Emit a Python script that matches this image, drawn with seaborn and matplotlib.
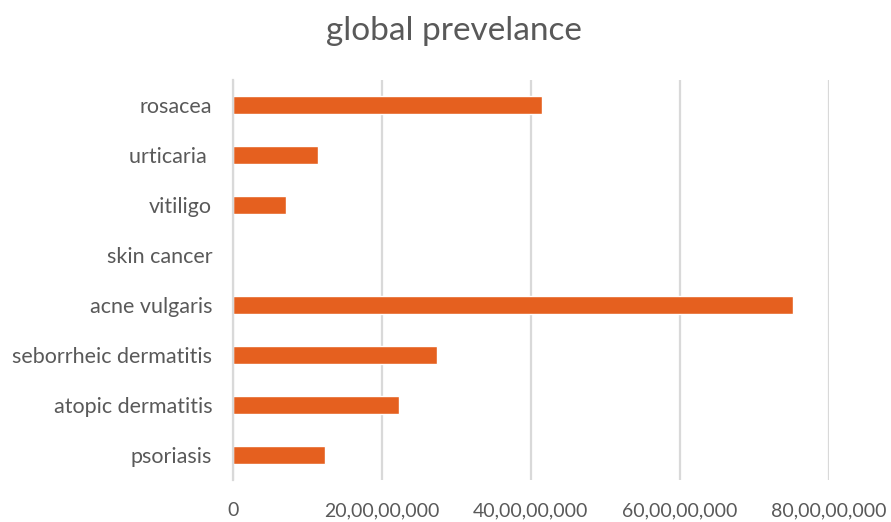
import pandas as pd
import matplotlib.pyplot as plt
import seaborn as sns
from matplotlib.ticker import FuncFormatter

# Datos
enfermedades = ['rosacea', 'urticaria ', 'vitiligo', 'skin cancer', 'acne vulgaris',
                'seborrheic dermatitis', 'atopic dermatitis', 'psoriasis']
prevalencia = [415000000, 114000000, 71000000, 0, 752000000,
               274000000, 223000000, 124000000]
ticks_x = [0, 200000000, 400000000, 600000000, 800000000]

df = pd.DataFrame({'enfermedad': enfermedades, 'prevalencia': prevalencia})


def formato_indio(x, pos):
    # 20,00,00,000 style grouping
    s = str(int(round(x)))
    if len(s) <= 3:
        return s
    ultimos = s[-3:]
    resto = s[:-3]
    grupos = []
    while len(resto) > 2:
        grupos.insert(0, resto[-2:])
        resto = resto[:-2]
    if resto:
        grupos.insert(0, resto)
    return ','.join(grupos) + ',' + ultimos


sns.set_style('white')
plt.rcParams['font.family'] = ['Lato', 'DejaVu Sans']
gris = '#595959'

fig = plt.figure(figsize=(8.91, 5.22), dpi=100)
ax = fig.add_axes([0.2615, 0.0805, 0.6685, 0.7662])

sns.barplot(data=df, x='prevalencia', y='enfermedad', orient='h',
            color='#E5601F', width=0.36, saturation=1, ax=ax)

ax.set_xlim(0, 800000000)
ax.set_xticks(ticks_x)
ax.xaxis.set_major_formatter(FuncFormatter(formato_indio))
ax.grid(axis='x', color='#d9d9d9', linewidth=1.6)
ax.set_axisbelow(True)
for lado in ['top', 'right', 'bottom']:
    ax.spines[lado].set_visible(False)
ax.spines['left'].set_color('#d9d9d9')
ax.spines['left'].set_linewidth(1.6)
ax.set_xlabel('')
ax.set_ylabel('')
ax.tick_params(axis='both', length=0, labelcolor=gris)
ax.tick_params(axis='x', pad=16, labelsize=14)
ax.tick_params(axis='y', pad=15, labelsize=15.5)

fig.suptitle('global prevelance', fontsize=24, color=gris, x=0.51, y=0.97)

fig.savefig('out.png', dpi=100)
